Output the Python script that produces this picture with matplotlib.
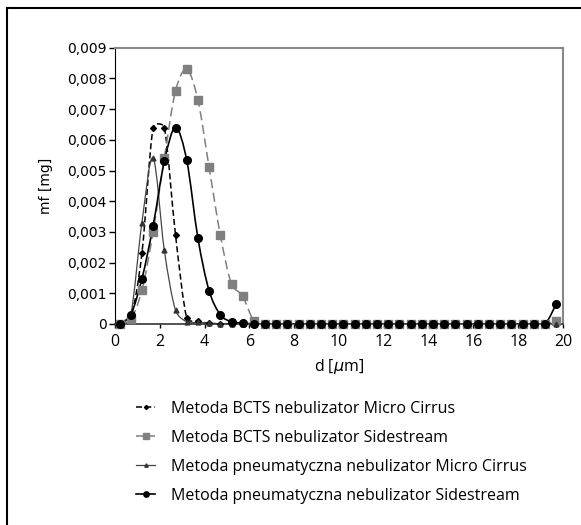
import numpy as np
import matplotlib
matplotlib.use("Agg")
import matplotlib.pyplot as plt
from matplotlib.path import Path
from matplotlib.patches import PathPatch
from matplotlib.lines import Line2D

# particle diameter d [um], bin centres
d = [0.2, 0.7, 1.2, 1.7, 2.2, 2.7, 3.2, 3.7, 4.2, 4.7,
     5.2, 5.7, 6.2, 6.7, 7.2, 7.7, 8.2, 8.7, 9.2, 9.7,
     10.2, 10.7, 11.2, 11.7, 12.2, 12.7, 13.2, 13.7, 14.2, 14.7,
     15.2, 15.7, 16.2, 16.7, 17.2, 17.7, 18.2, 18.7, 19.2, 19.7]

zeros = [0.0] * 26
bcts_mc = [0.0, 0.0002, 0.0023, 0.0064, 0.0064, 0.0029, 0.0002, 0.00008, 0.00003, 0.0,
           0.0, 0.0, 0.0, 0.0] + zeros
bcts_ss = [0.0, 0.00015, 0.0011, 0.0030, 0.0054, 0.0076, 0.0083, 0.0073, 0.0051, 0.0029,
           0.0013, 0.0009, 0.0001, 0.0] + [0.0] * 25 + [0.0001]
pneu_mc = [0.0, 0.0003, 0.0033, 0.0054, 0.0024, 0.00045, 0.00007, 0.00005, 0.00003, 0.0,
           0.0, 0.0, 0.0, 0.0] + zeros
pneu_ss = [0.0, 0.0003, 0.00147, 0.0032, 0.0053, 0.0064, 0.00534, 0.0028, 0.00108, 0.0003,
           0.00007, 0.00003, 0.0, 0.0] + [0.0] * 25 + [0.00065]

labels = ["Metoda BCTS nebulizator Micro Cirrus",
          "Metoda BCTS nebulizator Sidestream",
          "Metoda pneumatyczna nebulizator Micro Cirrus",
          "Metoda pneumatyczna nebulizator Sidestream"]


def smooth_path(ax, x, y, clamp=0.45):
    # excel-like smoothed line (catmull-rom in display space, handles limited on short segments)
    p = ax.transData.transform(np.column_stack([x, y]))
    n = len(p)
    tang = np.array([(p[min(i + 1, n - 1)] - p[max(i - 1, 0)]) / 6 for i in range(n)])
    verts = [p[0]]
    codes = [Path.MOVETO]
    for i in range(n - 1):
        seg = np.hypot(*(p[i + 1] - p[i]))
        h = []
        for v in (tang[i], tang[i + 1]):
            l = np.hypot(*v)
            h.append(v * min(1, clamp * seg / l) if l > 0 else v)
        verts += [p[i] + h[0], p[i + 1] - h[1], p[i + 1]]
        codes += [Path.CURVE4] * 3
    verts = ax.transData.inverted().transform(np.array(verts))
    return Path(verts, codes)


fig = plt.figure(figsize=(5.81, 5.25), dpi=100)
ax = fig.add_axes([0.198, 0.383, 0.771, 0.526])
ax.set_xlim(0, 20)
ax.set_ylim(0, 0.009)

series = [
    (bcts_mc, dict(color="black", ls=(0, (4, 2)), lw=1.1, marker="D", ms=3, mfc="black", mec="black")),
    (bcts_ss, dict(color="#7f7f7f", ls=(0, (6, 3)), lw=1.1, marker="s", ms=5.5, mfc="#7f7f7f", mec="#7f7f7f")),
    (pneu_mc, dict(color="#444444", ls="-", lw=0.9, marker="^", ms=3.5, mfc="#333333", mec="#333333")),
    (pneu_ss, dict(color="black", ls="-", lw=1.2, marker="o", ms=5.5, mfc="black", mec="black")),
]

handles = []
for vals, st in series:
    ax.add_patch(PathPatch(smooth_path(ax, d, vals), fill=False, edgecolor=st["color"],
                           linestyle=st["ls"], lw=st["lw"], zorder=2))
    ax.plot(d, vals, ls="none", marker=st["marker"], ms=st["ms"], mfc=st["mfc"],
            mec=st["mec"], zorder=3, clip_on=False)
    handles.append(Line2D([], [], color=st["color"], ls=st["ls"], lw=st["lw"], marker=st["marker"],
                          ms=st["ms"] * 0.7, mfc=st["mfc"], mec=st["mec"]))

ax.set_xticks(range(0, 21, 2))
ax.set_yticks(np.arange(0, 0.0091, 0.001))
ax.set_yticklabels(["0"] + ["0,00%d" % i for i in range(1, 10)],
                   fontfamily="DejaVu Sans", fontsize=10)
ax.set_xticklabels([str(v) for v in range(0, 21, 2)], fontfamily="Open Sans", fontsize=11.5)
ax.tick_params(axis="y", direction="out", length=4, width=1, pad=2)
ax.tick_params(axis="x", direction="out", length=3, width=1, pad=4)

for s in ("top", "right"):
    ax.spines[s].set_color("#888888")
    ax.spines[s].set_linewidth(1.5)
ax.spines["left"].set_color("black")
ax.spines["bottom"].set_color("#333333")
ax.spines["bottom"].set_linewidth(1.2)

ax.set_xlabel(r"d [$\mu$m]", fontfamily="Open Sans", fontsize=11.5, labelpad=5)
ax.set_ylabel("mf [mg]", fontfamily="DejaVu Sans", fontsize=10, labelpad=10)

leg = fig.legend(handles, labels, loc="upper left", bbox_to_anchor=(0.210, 0.264),
                 frameon=False, handlelength=1.15, handletextpad=1.0, labelspacing=0.82,
                 prop={"family": "Open Sans", "size": 11.5})

# outer frame of the figure
fig.add_artist(Line2D([7 / 581, 7 / 581], [0, 1 - 8 / 525], transform=fig.transFigure,
                      color="black", lw=1.5))
fig.add_artist(Line2D([7 / 581, 1], [1 - 8 / 525, 1 - 8 / 525], transform=fig.transFigure,
                      color="black", lw=1.5))

plt.savefig("out.png", dpi=100)
